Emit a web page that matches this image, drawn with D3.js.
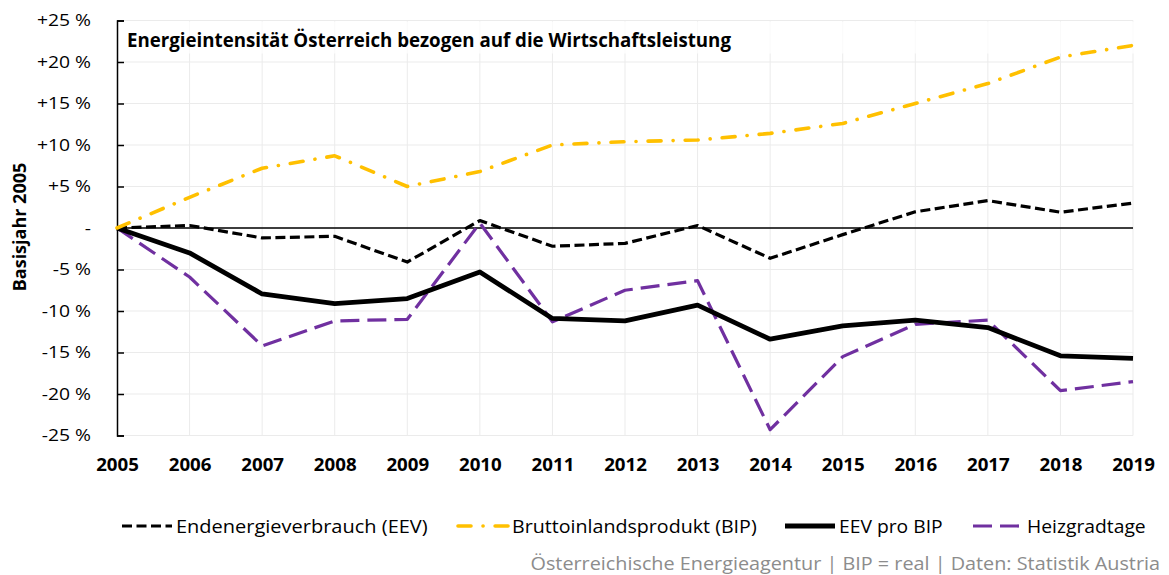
<!DOCTYPE html>
<html><head><meta charset="utf-8">
<script src="https://cdn.jsdelivr.net/npm/d3@7"></script>
<style>
body{margin:0;background:#fff;}
svg{display:block;font-family:"Open Sans",sans-serif;}
</style></head>
<body><svg id="c" width="1169" height="575"></svg>
<script>
const years = [2005,2006,2007,2008,2009,2010,2011,2012,2013,2014,2015,2016,2017,2018,2019];
const eev = [0,0.3,-1.2,-1.0,-4.1,0.9,-2.2,-1.85,0.3,-3.65,-0.8,1.95,3.3,1.9,3.0];
const bip = [0,3.7,7.2,8.7,5.0,6.8,10.0,10.4,10.6,11.4,12.6,15.0,17.4,20.6,22.0];
const eevProBip = [0,-3.0,-7.95,-9.1,-8.5,-5.3,-10.9,-11.2,-9.3,-13.4,-11.8,-11.1,-12.0,-15.4,-15.7];
const hgt = [0,-5.9,-14.2,-11.2,-11.0,0.6,-11.3,-7.5,-6.35,-24.3,-15.5,-11.6,-11.1,-19.6,-18.5];
const yTicks = [-25,-20,-15,-10,-5,0,5,10,15,20,25];
const yTickLabels = ["-25 %","-20 %","-15 %","-10 %","-5 %","-","+5 %","+10 %","+15 %","+20 %","+25 %"];
const seriesNames = ["Endenergieverbrauch (EEV)","Bruttoinlandsprodukt (BIP)","EEV pro BIP","Heizgradtage"];
const titleText = "Energieintensität Österreich bezogen auf die Wirtschaftsleistung";
const yLabel = "Basisjahr 2005";
const footer = "Österreichische Energieagentur | BIP = real |  Daten: Statistik Austria";

const svg = d3.select("#c");
const x = d3.scaleLinear().domain([2005,2019]).range([117,1133]);
const y = d3.scaleLinear().domain([-25,25]).range([435.5,20.5]);

function stretch(sel, f){
  sel.each(function(){
    const L = this.getComputedTextLength();
    this.setAttribute("textLength", L*f);
    this.setAttribute("lengthAdjust","spacingAndGlyphs");
  });
}

// gridlines
const grid = svg.append("g").attr("stroke","#ebebeb").attr("stroke-width",1);
grid.selectAll(".gx").data(years.slice(1)).join("line")
  .attr("x1",d=>x(d)).attr("x2",d=>x(d)).attr("y1",y(25)).attr("y2",y(-25));
grid.selectAll(".gy").data(yTicks).join("line")
  .attr("x1",x(2005)).attr("x2",x(2019)).attr("y1",d=>y(d)).attr("y2",d=>y(d));

// title background
svg.append("rect").attr("x",x(2005)+1).attr("y",y(25)+1).attr("width",x(2019)-x(2005)+1).attr("height",32)
  .attr("fill","#fff").attr("opacity",0.75);

// zero line
svg.append("line").attr("x1",x(2005)).attr("x2",x(2019)).attr("y1",y(0)).attr("y2",y(0))
  .attr("stroke","#000").attr("stroke-width",1.5);

// y axis
const yAxis = d3.axisLeft(y).tickValues(yTicks).tickSize(-7).tickPadding(26)
  .tickFormat(d=>yTickLabels[yTicks.indexOf(d)]);
const ga = svg.append("g").attr("transform",`translate(${x(2005)},0)`).call(yAxis);
ga.select(".domain").attr("stroke","#000").attr("stroke-width",1.5);
ga.selectAll(".tick line").attr("stroke","#000").attr("stroke-width",1.5);
const yt = ga.selectAll(".tick text").attr("font-size",16.5).attr("fill","#000")
  .attr("font-family","'Open Sans',sans-serif");
stretch(yt,1.17);

// x labels
const xAxis = d3.axisBottom(x).tickValues(years).tickSize(0).tickFormat(d3.format("d"));
const gx = svg.append("g").attr("transform",`translate(0,471)`).call(xAxis);
gx.select(".domain").remove();
const xt = gx.selectAll(".tick text").attr("y",0).attr("dy",null).attr("font-size",17).attr("font-weight","bold").attr("fill","#000")
  .attr("font-family","'Open Sans',sans-serif");
stretch(xt,1.1);

// series
const line = d3.line().x((d,i)=>x(years[i])).y(d=>y(d));
const styles = [
  {data:eev, color:"#000", w:3.2, dash:"10,4.5", cap:"butt"},
  {data:bip, color:"#FFC000", w:3.6, dash:"13,12,0.1,12", cap:"round"},
  {data:eevProBip, color:"#000", w:4.8, dash:null, cap:"butt"},
  {data:hgt, color:"#7030A0", w:3.2, dash:"19,8", cap:"butt"}
];
const drawOrder = [3,2,0,1];
drawOrder.forEach(k=>{
  const s = styles[k];
  svg.append("path").datum(s.data).attr("d",line).attr("fill","none")
    .attr("stroke",s.color).attr("stroke-width",s.w).attr("stroke-linecap",s.cap)
    .attr("stroke-linejoin","round")
    .attr("stroke-dasharray",s.dash);
});

// title
svg.append("text").attr("x",127).attr("y",47).attr("font-size",18.7).attr("font-weight","bold")
  .attr("fill","#000").text(titleText);

// y label
svg.append("text").attr("transform","translate(26,227) rotate(-90)").attr("text-anchor","middle")
  .attr("font-size",18).attr("font-weight","bold").attr("fill","#000").text(yLabel);

// legend
const legX = [122,458,785,973];
const lg = svg.append("g");
styles.forEach((s,i)=>{
  lg.append("line").attr("x1",legX[i]).attr("x2",legX[i]+50).attr("y1",526).attr("y2",526)
    .attr("stroke",s.color).attr("stroke-width",s.w).attr("stroke-linecap",s.cap)
    .attr("stroke-dasharray",s.dash);
  const t = lg.append("text").attr("x",legX[i]+54).attr("y",532.5).attr("font-size",17.7).attr("fill","#000").text(seriesNames[i]);
  stretch(t, i===0 ? 1.13 : (i===1 ? 1.11 : 1.09));
});

// footer
const ft = svg.append("text").attr("x",1160).attr("y",569.5).attr("text-anchor","end").attr("font-size",18)
  .attr("fill","#8c8c8c").text(footer);
stretch(ft,1.1);
</script></body></html>
